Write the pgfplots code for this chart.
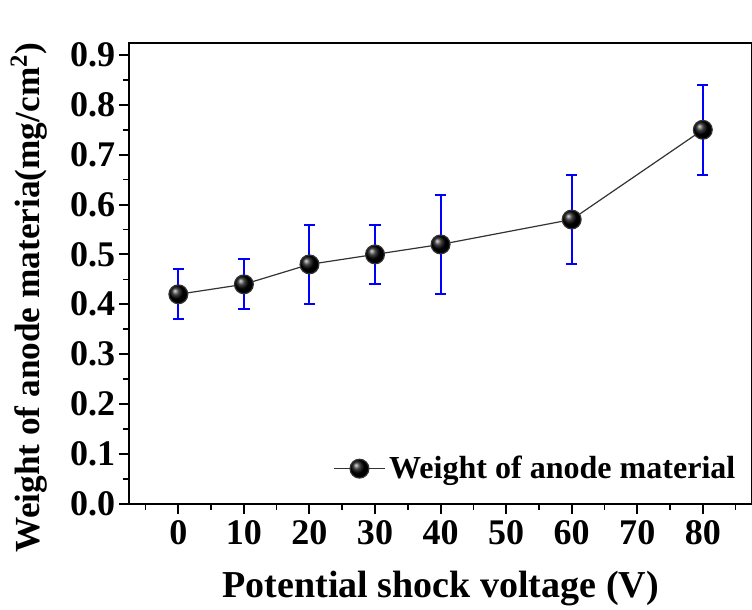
\documentclass[border=0pt]{standalone}
\usepackage{fontspec}
\setmainfont{Liberation Serif}
\usepackage{pgfplots}
\pgfplotsset{compat=1.18}

% voltage, weight, error
\pgfplotstableread{
x    y     err
0    0.42  0.05
10   0.44  0.05
20   0.48  0.08
30   0.50  0.06
40   0.52  0.10
60   0.57  0.09
80   0.75  0.09
}\weightdata

\begin{document}
\begin{tikzpicture}
\useasboundingbox (-64.5pt,-53pt) rectangle (311pt,251.5pt);
\begin{axis}[
  at={(0pt,0pt)}, anchor=south west,
  scale only axis,
  width=311pt,
  height=230pt,
  xmin=-7.5, xmax=87.5,
  ymin=0, ymax=0.924,
  xtick={0,10,...,80},
  minor xtick={-5,5,...,85},
  ytick={0,0.1,...,0.9},
  minor ytick={0.05,0.15,...,0.85},
  tick pos=left,
  tick align=outside,
  major tick length=5pt,
  minor tick length=3pt,
  axis line style={line width=1pt},
  every tick/.style={line width=1pt, black},
  every minor tick/.style={line width=0.8pt, black},
  /pgf/number format/assume math mode=true,
  tick label style={font=\bfseries\fontsize{18}{21}\selectfont},
  yticklabel style={xshift=1.5pt, /pgf/number format/fixed, /pgf/number format/fixed zerofill, /pgf/number format/precision=1},
  xlabel={Potential shock voltage (V)},
  ylabel={Weight of anode materia(mg/cm\textsuperscript{2})},
  xlabel style={font=\bfseries\fontsize{19}{22}\selectfont, at={(axis description cs:0.5,-0.185)}, anchor=center},
  ylabel style={font=\bfseries\fontsize{17.6}{20}\selectfont, at={(axis description cs:-0.161,0.448)}, anchor=center},
  legend style={at={(rel axis cs:0.99,0.03)}, anchor=south east, draw=none, fill=none,
    font=\bfseries\fontsize{16}{19}\selectfont},
  legend cell align=left,
  legend image code/.code={
    \draw[mark repeat=2, mark phase=2, #1] plot coordinates {(0cm,0cm) (0.44cm,0cm) (0.88cm,0cm)};
  },
]
\addplot[black!80, line width=0.6pt, mark=ball, mark size=4.7pt,
  mark options={ball color=black},
  error bars/.cd, y dir=both, y explicit,
  error bar style={blue, line width=1pt},
  error mark options={rotate=90, blue, mark size=2.8pt, line width=1pt}]
  table[x=x, y=y, y error=err] {\weightdata};
\legend{Weight of anode material}
\end{axis}
\end{tikzpicture}
\end{document}
